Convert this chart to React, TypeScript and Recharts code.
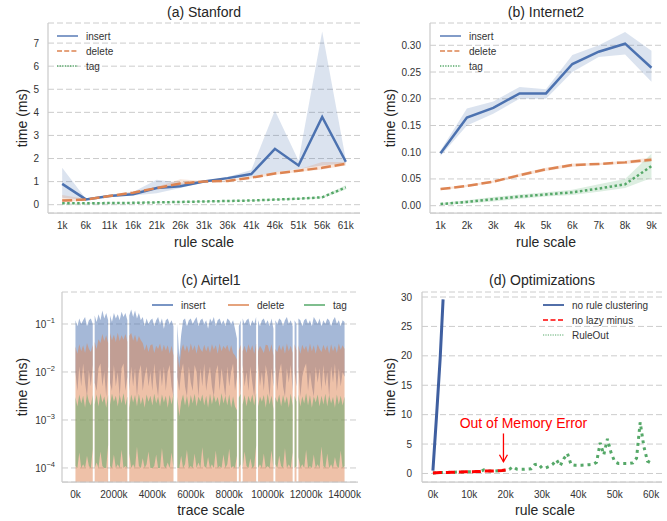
import React from 'react'
import { ComposedChart, Line, Area, XAxis, YAxis, CartesianGrid, ReferenceLine } from 'recharts'

const FONT = '"Liberation Sans", Arial, sans-serif'
const BLUE = '#4C72B0'
const ORANGE = '#DD8452'
const GREEN = '#55A868'
const GRID = '#cccccc'
const TEXT = '#333333'

// (a) Stanford, rule scale in k
const stanfordScale = [1, 6, 11, 16, 21, 26, 31, 36, 41, 46, 51, 56, 61]
const stanfordInsert = [0.9, 0.23, 0.38, 0.45, 0.72, 0.8, 1.0, 1.15, 1.33, 2.42, 1.7, 3.8, 1.86]
const stanfordInsertLo = [0.3, 0.2, 0.35, 0.4, 0.5, 0.72, 0.97, 1.1, 1.22, 1.4, 1.55, 1.7, 1.8]
const stanfordInsertHi = [1.6, 0.26, 0.42, 0.55, 1.08, 0.95, 1.03, 1.2, 1.5, 4.08, 1.9, 7.5, 1.95]
const stanfordDelete = [0.18, 0.22, 0.38, 0.52, 0.72, 0.92, 1.0, 1.03, 1.17, 1.35, 1.47, 1.6, 1.77]
const stanfordDeleteLo = [0.1, 0.19, 0.35, 0.48, 0.68, 0.85, 0.97, 1.0, 1.13, 1.3, 1.42, 1.52, 1.7]
const stanfordDeleteHi = [0.42, 0.25, 0.42, 0.57, 0.78, 1.1, 1.03, 1.07, 1.22, 1.42, 1.52, 1.85, 1.85]
const stanfordTag = [0.06, 0.06, 0.07, 0.08, 0.1, 0.12, 0.14, 0.16, 0.18, 0.22, 0.26, 0.32, 0.75]
const stanfordTagLo = [0.04, 0.04, 0.05, 0.06, 0.08, 0.1, 0.12, 0.14, 0.16, 0.19, 0.23, 0.28, 0.66]
const stanfordTagHi = [0.08, 0.08, 0.09, 0.1, 0.12, 0.14, 0.16, 0.18, 0.2, 0.25, 0.29, 0.36, 0.84]
const stanfordYTicks = [0, 1, 2, 3, 4, 5, 6, 7]

// (b) Internet2
const internetScale = [1, 2, 3, 4, 5, 6, 7, 8, 9]
const internetInsert = [0.098, 0.165, 0.183, 0.21, 0.21, 0.265, 0.288, 0.303, 0.258]
const internetInsertLo = [0.093, 0.15, 0.172, 0.2, 0.2, 0.25, 0.278, 0.283, 0.232]
const internetInsertHi = [0.103, 0.182, 0.195, 0.222, 0.218, 0.282, 0.3, 0.325, 0.29]
const internetDelete = [0.031, 0.037, 0.045, 0.057, 0.068, 0.076, 0.078, 0.081, 0.086]
const internetDeleteLo = [0.029, 0.035, 0.043, 0.054, 0.065, 0.073, 0.076, 0.078, 0.082]
const internetDeleteHi = [0.033, 0.039, 0.047, 0.06, 0.071, 0.079, 0.08, 0.084, 0.09]
const internetTag = [0.003, 0.007, 0.012, 0.017, 0.021, 0.025, 0.032, 0.04, 0.074]
const internetTagLo = [0.001, 0.004, 0.008, 0.013, 0.017, 0.02, 0.026, 0.033, 0.052]
const internetTagHi = [0.005, 0.01, 0.016, 0.021, 0.025, 0.03, 0.04, 0.05, 0.097]
const internetYTicks = [0, 0.05, 0.1, 0.15, 0.2, 0.25, 0.3]

// (c) Airtel1, one sample per 100k of trace; gaps = spots with no samples
const AIRTEL_STEP = 100
const airtelGaps = [950, 1750, 2750, 5150, 5250, 8450, 8650, 9450, 10350, 11350, 11550]
const airtelInsertHi = [
  0.12, 0.09, 0.13, 0.10, 0.12, 0.14, 0.09, 0.12, 0.13, 0.10,
  0.15, 0.11, 0.16, 0.12, 0.19, 0.13, 0.17, 0.12, 0.15, 0.11,
  0.17, 0.13, 0.16, 0.12, 0.18, 0.14, 0.17, 0.12, 0.15, 0.20,
  0.14, 0.19, 0.13, 0.17, 0.12, 0.14, 0.09, 0.13, 0.10, 0.12,
  0.13, 0.09, 0.12, 0.14, 0.10, 0.13, 0.08, 0.12, 0.13, 0.10,
  0.12, 0.09, 0.12, 0.10, 0.02, 0.06, 0.12, 0.13, 0.09, 0.12,
  0.13, 0.10, 0.12, 0.14, 0.09, 0.12, 0.13, 0.10, 0.12, 0.08,
  0.13, 0.11, 0.14, 0.09, 0.12, 0.13, 0.10, 0.12, 0.09, 0.13,
  0.12, 0.10, 0.12, 0.08, 0.05, 0.09, 0.12, 0.13, 0.10, 0.12,
  0.13, 0.09, 0.12, 0.10, 0.14, 0.12, 0.09, 0.12, 0.13, 0.10,
  0.12, 0.09, 0.13, 0.08, 0.12, 0.10, 0.13, 0.12, 0.09, 0.12,
  0.14, 0.10, 0.12, 0.09, 0.12, 0.10, 0.13, 0.12, 0.09, 0.12,
  0.13, 0.10, 0.12, 0.09, 0.14, 0.12, 0.10, 0.13, 0.09, 0.12,
  0.10, 0.13, 0.12, 0.09, 0.12, 0.14, 0.10, 0.12, 0.09, 0.12,
  0.11,
]
const airtelInsertLo = [
  0.010, 0.004, 0.013, 0.005, 0.015, 0.006, 0.003, 0.011, 0.005, 0.014,
  0.006, 0.004, 0.012, 0.015, 0.005, 0.010, 0.003, 0.013, 0.006, 0.004,
  0.014, 0.005, 0.010, 0.003, 0.012, 0.015, 0.004, 0.008, 0.004, 0.013,
  0.005, 0.012, 0.003, 0.010, 0.014, 0.004, 0.008, 0.013, 0.005, 0.010,
  0.004, 0.015, 0.006, 0.003, 0.012, 0.005, 0.013, 0.004, 0.010, 0.014,
  0.005, 0.003, 0.012, 0.008, 0.004, 0.010, 0.015, 0.005, 0.003, 0.013,
  0.006, 0.004, 0.014, 0.010, 0.003, 0.012, 0.005, 0.015, 0.004, 0.008,
  0.013, 0.005, 0.003, 0.010, 0.014, 0.004, 0.012, 0.006, 0.003, 0.013,
  0.005, 0.010, 0.015, 0.004, 0.008, 0.012, 0.003, 0.014, 0.005, 0.010,
  0.004, 0.013, 0.006, 0.003, 0.012, 0.015, 0.005, 0.010, 0.004, 0.014,
  0.008, 0.003, 0.012, 0.005, 0.013, 0.004, 0.010, 0.015, 0.005, 0.003,
  0.012, 0.006, 0.014, 0.004, 0.010, 0.005, 0.013, 0.003, 0.008, 0.012,
  0.015, 0.004, 0.010, 0.005, 0.003, 0.013, 0.006, 0.012, 0.004, 0.014,
  0.005, 0.010, 0.003, 0.013, 0.006, 0.015, 0.004, 0.012, 0.005, 0.010,
  0.008,
]
const airtelDeleteHi = [
  0.034, 0.024, 0.038, 0.027, 0.036, 0.025, 0.040, 0.030, 0.026, 0.037,
  0.042, 0.030, 0.048, 0.040, 0.062, 0.044, 0.058, 0.040, 0.064, 0.046,
  0.060, 0.042, 0.066, 0.044, 0.058, 0.047, 0.062, 0.042, 0.057, 0.065,
  0.045, 0.060, 0.041, 0.056, 0.046, 0.040, 0.028, 0.038, 0.026, 0.036,
  0.038, 0.025, 0.035, 0.030, 0.039, 0.026, 0.037, 0.028, 0.036, 0.024,
  0.035, 0.022, 0.034, 0.026, 0.012, 0.028, 0.038, 0.027, 0.036, 0.025,
  0.039, 0.028, 0.036, 0.024, 0.038, 0.030, 0.026, 0.037, 0.027, 0.035,
  0.025, 0.038, 0.029, 0.036, 0.024, 0.039, 0.027, 0.035, 0.030, 0.037,
  0.026, 0.036, 0.025, 0.022, 0.018, 0.028, 0.037, 0.027, 0.035, 0.025,
  0.038, 0.028, 0.036, 0.024, 0.039, 0.027, 0.035, 0.030, 0.025, 0.037,
  0.036, 0.026, 0.038, 0.022, 0.030, 0.026, 0.037, 0.028, 0.036, 0.024,
  0.039, 0.027, 0.035, 0.025, 0.038, 0.028, 0.036, 0.024, 0.037, 0.029,
  0.035, 0.025, 0.039, 0.027, 0.036, 0.024, 0.038, 0.030, 0.026, 0.037,
  0.028, 0.036, 0.024, 0.038, 0.027, 0.035, 0.025, 0.039, 0.029, 0.036,
  0.030,
]
const airtelTagHi = [
  0.0030, 0.0019, 0.0034, 0.0022, 0.0032, 0.0018, 0.0035, 0.0024, 0.0020, 0.0033,
  0.0021, 0.0034, 0.0019, 0.0036, 0.0023, 0.0031, 0.0018, 0.0033, 0.0021, 0.0035,
  0.0024, 0.0032, 0.0019, 0.0034, 0.0022, 0.0036, 0.0020, 0.0031, 0.0018, 0.0034,
  0.0023, 0.0033, 0.0019, 0.0035, 0.0021, 0.0030, 0.0018, 0.0034, 0.0024, 0.0032,
  0.0020, 0.0035, 0.0022, 0.0031, 0.0019, 0.0034, 0.0023, 0.0032, 0.0018, 0.0033,
  0.0021, 0.0035, 0.0019, 0.0030, 0.0012, 0.0024, 0.0034, 0.0020, 0.0032, 0.0018,
  0.0033, 0.0022, 0.0035, 0.0019, 0.0031, 0.0024, 0.0034, 0.0020, 0.0032, 0.0018,
  0.0035, 0.0021, 0.0033, 0.0023, 0.0030, 0.0019, 0.0036, 0.0022, 0.0032, 0.0020,
  0.0034, 0.0018, 0.0031, 0.0019, 0.0016, 0.0029, 0.0035, 0.0021, 0.0033, 0.0019,
  0.0032, 0.0023, 0.0034, 0.0020, 0.0036, 0.0019, 0.0031, 0.0024, 0.0033, 0.0018,
  0.0035, 0.0021, 0.0032, 0.0017, 0.0030, 0.0023, 0.0034, 0.0019, 0.0033, 0.0022,
  0.0031, 0.0018, 0.0035, 0.0020, 0.0032, 0.0024, 0.0034, 0.0019, 0.0031, 0.0022,
  0.0036, 0.0020, 0.0033, 0.0018, 0.0031, 0.0023, 0.0034, 0.0019, 0.0032, 0.0021,
  0.0035, 0.0019, 0.0033, 0.0022, 0.0030, 0.0018, 0.0034, 0.0021, 0.0032, 0.0020,
  0.0031,
]
const airtelTagLo = [
  0.00011, 0.00010, 0.00021, 0.00010, 0.00012, 0.00010, 0.00018, 0.00011, 0.00010, 0.00025,
  0.00010, 0.00013, 0.00010, 0.00022, 0.00011, 0.00010, 0.00010, 0.00030, 0.00011, 0.00010,
  0.00019, 0.00010, 0.00012, 0.00010, 0.00024, 0.00010, 0.00011, 0.00010, 0.00020, 0.00010,
  0.00012, 0.00010, 0.00028, 0.00011, 0.00010, 0.00016, 0.00010, 0.00012, 0.00022, 0.00010,
  0.00010, 0.00011, 0.00019, 0.00010, 0.00010, 0.00026, 0.00011, 0.00010, 0.00013, 0.00010,
  0.00021, 0.00010, 0.00011, 0.00010, 0.00010, 0.00018, 0.00010, 0.00012, 0.00024, 0.00010,
  0.00011, 0.00010, 0.00020, 0.00010, 0.00013, 0.00010, 0.00027, 0.00011, 0.00010, 0.00017,
  0.00010, 0.00012, 0.00010, 0.00023, 0.00010, 0.00011, 0.00010, 0.00019, 0.00010, 0.00012,
  0.00025, 0.00010, 0.00011, 0.00010, 0.00018, 0.00010, 0.00012, 0.00010, 0.00022, 0.00011,
  0.00010, 0.00016, 0.00010, 0.00011, 0.00029, 0.00010, 0.00012, 0.00010, 0.00020, 0.00010,
  0.00011, 0.00010, 0.00023, 0.00010, 0.00012, 0.00010, 0.00018, 0.00011, 0.00010, 0.00026,
  0.00010, 0.00012, 0.00010, 0.00021, 0.00010, 0.00011, 0.00017, 0.00010, 0.00012, 0.00010,
  0.00024, 0.00010, 0.00011, 0.00010, 0.00019, 0.00010, 0.00012, 0.00010, 0.00028, 0.00011,
  0.00010, 0.00020, 0.00010, 0.00012, 0.00010, 0.00017, 0.00011, 0.00010, 0.00023, 0.00010,
  0.00011,
]
const AIRTEL_FLOOR = 5.1e-5
const airtelXTicks = [0, 2000, 4000, 6000, 8000, 10000, 12000, 14000]
const airtelYTicks = [1e-4, 1e-3, 1e-2, 1e-1]

// (d) Optimizations, rule scale in k
const noClusterX = [0, 1, 2, 2.8]
const noClusterY = [0.5, 9.8, 19.6, 29.6]
const noLazyY = [
  0.1, 0.12, 0.15, 0.15, 0.18, 0.2, 0.22, 0.25, 0.25, 0.28,
  0.3, 0.3, 0.32, 0.35, 0.45, 0.4, 0.4, 0.42, 0.45, 0.5, 0.6,
]
const ruleOutY = [
  0.1, 0.12, 0.15, 0.15, 0.18, 0.2, 0.22, 0.25, 0.25, 0.28,
  0.3, 0.3, 0.32, 0.35, 0.6, 0.4, 0.4, 0.42, 0.45, 0.5,
  0.55, 0.7, 1.15, 0.75, 0.7, 0.7, 0.75, 0.8, 1.5, 1.6,
  0.9, 0.95, 1.2, 1.6, 2.3, 1.3, 2.5, 3.4, 1.5, 1.4,
  1.4, 1.4, 1.45, 1.5, 1.55, 1.9, 5.2, 3.2, 5.9, 3.5,
  2.0, 1.7, 1.7, 1.7, 1.7, 1.8, 2.6, 8.7, 4.6, 2.1,
  1.8,
]
const optXTicks = [0, 10, 20, 30, 40, 50, 60]
const optYTicks = [0, 5, 10, 15, 20, 25, 30]

const seriesNames = ['insert', 'delete', 'tag']
const optNames = ['no rule clustering', 'no lazy minus', 'RuleOut']

const stanfordData = stanfordScale.map((x, i) => ({
  x,
  insert: stanfordInsert[i],
  insertBand: [stanfordInsertLo[i], stanfordInsertHi[i]],
  delete: stanfordDelete[i],
  deleteBand: [stanfordDeleteLo[i], stanfordDeleteHi[i]],
  tag: stanfordTag[i],
  tagBand: [stanfordTagLo[i], stanfordTagHi[i]],
}))

const internetData = internetScale.map((x, i) => ({
  x,
  insert: internetInsert[i],
  insertBand: [internetInsertLo[i], internetInsertHi[i]],
  delete: internetDelete[i],
  deleteBand: [internetDeleteLo[i], internetDeleteHi[i]],
  tag: internetTag[i],
  tagBand: [internetTagLo[i], internetTagHi[i]],
}))

const airtelData = [
  ...airtelInsertHi.map((_, i) => ({
    x: i * AIRTEL_STEP,
    insert: [airtelInsertLo[i], airtelInsertHi[i]] as number[] | null,
    delete: [AIRTEL_FLOOR, airtelDeleteHi[i]] as number[] | null,
    tag: [airtelTagLo[i], airtelTagHi[i]] as number[] | null,
  })),
  ...airtelGaps.map((x) => ({ x, insert: null, delete: null, tag: null })),
].sort((a, b) => a.x - b.x)

const noClusterData = noClusterX.map((x, i) => ({ x, y: noClusterY[i] }))
const noLazyData = noLazyY.map((y, i) => ({ x: i, y }))
const ruleOutData = ruleOutY.map((y, i) => ({ x: i, y }))

const tickStyle = { fontSize: 10, fill: TEXT, fontFamily: FONT }
const spine = { stroke: GRID, strokeWidth: 1.25 }

function PowTick(props: any) {
  const { x, y, payload } = props
  const exp = Math.round(Math.log10(payload.value))
  return (
    <text x={x} y={y} dy={4.5} textAnchor="end" fontSize={10} fill={TEXT} fontFamily={FONT}>
      10
      <tspan dy={-5} fontSize={7.5}>{'\u2212' + Math.abs(exp)}</tspan>
    </text>
  )
}

function MemoryArrow(props: any) {
  const { x1, y1, x2, y2 } = props
  return (
    <g>
      <line x1={x1} y1={y1} x2={x2} y2={y2} stroke="red" strokeWidth={1.3} />
      <polyline
        points={`${x2 - 4},${y2 - 7} ${x2},${y2} ${x2 + 4},${y2 - 7}`}
        fill="none"
        stroke="red"
        strokeWidth={1.3}
      />
      <text x={x1 + 20} y={y1 - 5} textAnchor="middle" fill="red" fontSize={14} fontFamily={FONT}>
        Out of Memory Error
      </text>
    </g>
  )
}

function BandedPanel({ data, left, xDomain, xTicks, yDomain, yTicks, yWidth, yFormat }: any) {
  return (
    <div style={{ position: 'absolute', left, top: 0 }}>
      <ComposedChart
        width={left === 0 ? 362 : 300}
        height={260}
        data={data}
        margin={{ top: 23, right: left === 0 ? 2 : 3, bottom: 17, left: 0 }}
      >
        <CartesianGrid vertical={false} stroke={GRID} strokeDasharray="6 3" />
        <XAxis
          dataKey="x"
          type="number"
          domain={xDomain}
          ticks={xTicks}
          allowDataOverflow
          tickFormatter={(v: number) => `${v}k`}
          height={30}
          tickSize={0}
          tickMargin={9}
          tick={tickStyle}
          tickLine={false}
          axisLine={spine}
        />
        <YAxis
          type="number"
          domain={yDomain}
          ticks={yTicks}
          allowDataOverflow
          tickFormatter={yFormat}
          width={yWidth}
          tickSize={0}
          tickMargin={9}
          tick={tickStyle}
          tickLine={false}
          axisLine={spine}
        />
        <Area dataKey="insertBand" type="linear" stroke="none" fill={BLUE} fillOpacity={0.2} isAnimationActive={false} />
        <Area dataKey="deleteBand" type="linear" stroke="none" fill={ORANGE} fillOpacity={0.2} isAnimationActive={false} />
        <Area dataKey="tagBand" type="linear" stroke="none" fill={GREEN} fillOpacity={0.2} isAnimationActive={false} />
        <Line dataKey="insert" type="linear" stroke={BLUE} strokeWidth={2.5} dot={false} isAnimationActive={false} />
        <Line dataKey="delete" type="linear" stroke={ORANGE} strokeWidth={2.5} strokeDasharray="10 3.75" dot={false} isAnimationActive={false} />
        <Line dataKey="tag" type="linear" stroke={GREEN} strokeWidth={2.5} strokeDasharray="2.5 2.5" dot={false} isAnimationActive={false} />
      </ComposedChart>
    </div>
  )
}

function AirtelPanel() {
  return (
    <div style={{ position: 'absolute', left: 0, top: 265 }}>
      <ComposedChart width={362} height={260} data={airtelData} margin={{ top: 27, right: 4, bottom: 13, left: 0 }}>
        <CartesianGrid vertical={false} stroke={GRID} strokeDasharray="6 3" />
        <XAxis
          dataKey="x"
          type="number"
          domain={[-700, 14700]}
          ticks={airtelXTicks}
          allowDataOverflow
          tickFormatter={(v: number) => `${v}k`}
          height={30}
          tickSize={0}
          tickMargin={9}
          tick={tickStyle}
          tickLine={false}
          axisLine={spine}
        />
        <YAxis
          type="number"
          scale="log"
          domain={[AIRTEL_FLOOR, 0.464]}
          ticks={airtelYTicks}
          allowDataOverflow
          width={62}
          tickSize={0}
          tickMargin={7}
          tick={PowTick}
          tickLine={false}
          axisLine={spine}
        />
        <Area dataKey="insert" type="linear" stroke="none" fill={BLUE} fillOpacity={0.5} isAnimationActive={false} />
        <Area dataKey="delete" type="linear" stroke="none" fill={ORANGE} fillOpacity={0.5} isAnimationActive={false} />
        <Area dataKey="tag" type="linear" stroke="none" fill={GREEN} fillOpacity={0.5} isAnimationActive={false} />
      </ComposedChart>
    </div>
  )
}

function OptPanel() {
  return (
    <div style={{ position: 'absolute', left: 365, top: 265 }}>
      <ComposedChart width={300} height={260} margin={{ top: 27, right: 3, bottom: 13, left: 0 }}>
        <CartesianGrid vertical={false} stroke={GRID} strokeDasharray="6 3" />
        <XAxis
          dataKey="x"
          type="number"
          domain={[-3, 63]}
          ticks={optXTicks}
          allowDataOverflow
          tickFormatter={(v: number) => `${v}k`}
          height={30}
          tickSize={0}
          tickMargin={9}
          tick={tickStyle}
          tickLine={false}
          axisLine={spine}
        />
        <YAxis
          type="number"
          domain={[-1.45, 30.85]}
          ticks={optYTicks}
          allowDataOverflow
          width={57}
          tickSize={0}
          tickMargin={10}
          tick={tickStyle}
          tickLine={false}
          axisLine={spine}
        />
        <Line data={ruleOutData} dataKey="y" type="linear" stroke={GREEN} strokeWidth={3} strokeDasharray="3 4" dot={false} isAnimationActive={false} />
        <Line data={noLazyData} dataKey="y" type="linear" stroke="red" strokeWidth={3} strokeDasharray="9 4" dot={false} isAnimationActive={false} />
        <Line data={noClusterData} dataKey="y" type="linear" stroke="#3F5FA0" strokeWidth={3} dot={false} isAnimationActive={false} />
        <ReferenceLine
          segment={[{ x: 19.4, y: 6.8 }, { x: 19.4, y: 2.0 }]}
          shape={MemoryArrow}
          ifOverflow="visible"
        />
      </ComposedChart>
    </div>
  )
}

function LegendRow({ x, y, color, dash, width, label }: any) {
  return (
    <g>
      <line x1={x} y1={y} x2={x + 21} y2={y} stroke={color} strokeWidth={width} strokeDasharray={dash} />
      <text x={x + 29} y={y + 3.5} fontSize={10} fill={TEXT}>
        {label}
      </text>
    </g>
  )
}

function Overlay() {
  const lineStyles = [
    { color: BLUE, dash: undefined },
    { color: ORANGE, dash: '5 2.2' },
    { color: GREEN, dash: '1.3 1.3' },
  ]
  const optStyles = [
    { color: '#3F5FA0', dash: undefined, width: 1.8 },
    { color: 'red', dash: '5 2.5', width: 1.5 },
    { color: GREEN, dash: '1.2 1.2', width: 1 },
  ]
  return (
    <svg
      width={667}
      height={521}
      style={{ position: 'absolute', left: 0, top: 0, pointerEvents: 'none' }}
      fontFamily={FONT}
    >
      <g fontSize={14} fill="#262626" textAnchor="middle">
        <text x={204} y={17}>(a) Stanford</text>
        <text x={546} y={17}>(b) Internet2</text>
        <text x={211} y={285}>(c) Airtel1</text>
        <text x={542} y={285}>(d) Optimizations</text>
        <text x={204} y={247}>rule scale</text>
        <text x={546} y={247}>rule scale</text>
        <text x={211} y={515}>trace scale</text>
        <text x={545} y={515}>rule scale</text>
        <text x={22} y={118} dy="0.35em" transform="rotate(-90 22 118)">time (ms)</text>
        <text x={390} y={118} dy="0.35em" transform="rotate(-90 390 118)">time (ms)</text>
        <text x={22} y={387} dy="0.35em" transform="rotate(-90 22 387)">time (ms)</text>
        <text x={390} y={387} dy="0.35em" transform="rotate(-90 390 387)">time (ms)</text>
      </g>
      {seriesNames.map((name, i) => (
        <LegendRow key={'a' + name} x={57} y={36 + i * 15} color={lineStyles[i].color} dash={lineStyles[i].dash} width={1.4} label={name} />
      ))}
      {seriesNames.map((name, i) => (
        <LegendRow key={'b' + name} x={440} y={36 + i * 15} color={lineStyles[i].color} dash={lineStyles[i].dash} width={1.4} label={name} />
      ))}
      {seriesNames.map((name, i) => (
        <LegendRow key={'c' + name} x={152 + i * 76} y={305} color={lineStyles[i].color} width={1.5} label={name} />
      ))}
      {optNames.map((name, i) => (
        <LegendRow key={'d' + name} x={543} y={305 + i * 15} color={optStyles[i].color} dash={optStyles[i].dash} width={optStyles[i].width} label={name} />
      ))}
    </svg>
  )
}

export default function App() {
  return (
    <div style={{ position: 'absolute', left: 0, top: 0, width: 667, height: 521, background: '#fff', fontFamily: FONT }}>
      <BandedPanel
        data={stanfordData}
        left={0}
        xDomain={[-2, 64]}
        xTicks={stanfordScale}
        yDomain={[-0.36, 7.87]}
        yTicks={stanfordYTicks}
        yWidth={48}
      />
      <BandedPanel
        data={internetData}
        left={365}
        xDomain={[0.6, 9.4]}
        xTicks={internetScale}
        yDomain={[-0.0137, 0.3417]}
        yTicks={internetYTicks}
        yWidth={65}
        yFormat={(v: number) => v.toFixed(2)}
      />
      <AirtelPanel />
      <OptPanel />
      <Overlay />
    </div>
  )
}
